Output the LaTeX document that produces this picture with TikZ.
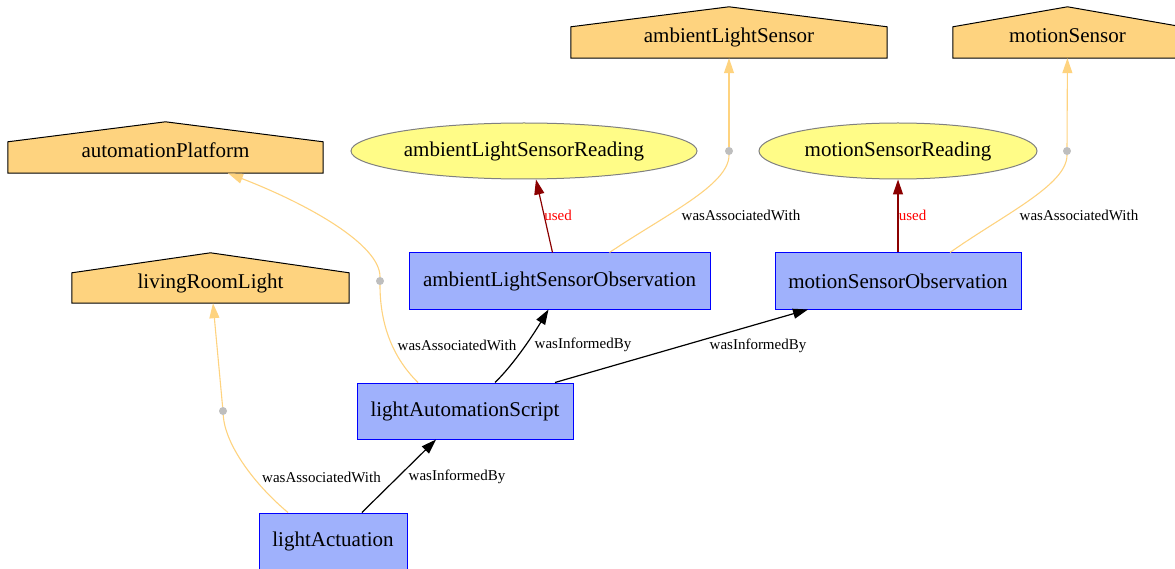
\documentclass[tikz,border=0pt]{standalone}
\usepackage{fontspec}
\setmainfont{Liberation Serif}
\usetikzlibrary{shapes.geometric,arrows.meta,backgrounds}
\definecolor{agentfill}{HTML}{FED37F}
\definecolor{actfill}{HTML}{9FB1FC}
\definecolor{entfill}{HTML}{FFFC87}
\definecolor{dotgray}{HTML}{BEBEBE}
\definecolor{usedred}{HTML}{8B0000}

\begin{document}
\begin{tikzpicture}[y=-1pt, x=1pt]
	\tikzstyle{every node}=[font=\fontsize{21}{24}\selectfont, inner sep=0]
	\tikzstyle{activity}=[rectangle, draw=blue, fill=actfill, line width=1pt, minimum height=56]
	\tikzstyle{entity}=[ellipse, draw=gray, fill=entfill, line width=1pt, minimum height=56]
	\tikzstyle{agent}=[rectangle, minimum height=31, text depth=14.5pt]
	\tikzstyle{bend dot}=[circle, fill=dotgray, minimum size=8]
	\tikzstyle{lbl}=[font=\fontsize{15}{18}\selectfont]
	\tikzstyle{informed}=[line width=1.2pt, -{Triangle[length=15pt, width=10pt]}]
	\tikzstyle{usedge}=[informed, usedred]
	\tikzstyle{associated}=[line width=1.1pt, agentfill]
	\tikzstyle{assoc arrow}=[associated, -{Triangle[length=15pt, width=10pt]}]

	\useasboundingbox (0,0) rectangle (1175,569);

	%agents
	\node[agent, minimum width=315] (ap) at (165.5,157.5) {automationPlatform};
	\node[agent, minimum width=277, minimum height=30] (lrl) at (210.5,288) {livingRoomLight};
	\node[agent, minimum width=316] (als) at (729,42.5) {ambientLightSensor};
	\node[agent, minimum width=229] (ms) at (1067.5,42.5) {motionSensor};
	\begin{pgfonlayer}{background}
		\foreach \n in {ap,lrl,als,ms}
			\draw[fill=agentfill, line width=1pt] (\n.south west) -- (\n.north west)
				-- ([yshift=20]\n.north) -- (\n.north east) -- (\n.south east) -- cycle;
	\end{pgfonlayer}

	%entities
	\node[entity, minimum width=346] (alsr) at (524,151) {ambientLightSensorReading};
	\node[entity, minimum width=278] (msr) at (898,151) {motionSensorReading};

	%activities
	\node[activity, minimum width=301] (alo) at (559.5,281) {ambientLightSensorObservation};
	\node[activity, minimum width=246] (mso) at (898,281) {motionSensorObservation};
	\node[activity, minimum width=216] (las) at (465,411) {lightAutomationScript};
	\node[activity, minimum width=148] (la) at (333,541) {lightActuation};

	%dots
	\node[bend dot] (d1) at (223,411) {};
	\node[bend dot] (d2) at (380,281) {};
	\node[bend dot] (d3) at (729,151) {};
	\node[bend dot] (d4) at (1067,151) {};

	%wasInformedBy
	\draw[informed] (la) -- (las);
	\draw[informed] ([xshift=30]las.north) .. controls (512,366) and (530,340) .. ([xshift=-11]alo.south);
	\draw[informed] ([xshift=90]las.north) -- ([xshift=-90]mso.south);

	%used
	\draw[usedge] ([xshift=-7]alo.north) -- ([xshift=12]alsr.south);
	\draw[usedge] (mso) -- (msr);

	%wasAssociatedWith
	\draw[associated] ([xshift=-45]la.north) .. controls (255,485) and (225,445) .. (d1);
	\draw[assoc arrow] (d1) -- ([xshift=2.5]lrl.south);
	\draw[associated] ([xshift=-47]las.north) .. controls (390,355) and (380,320) .. (d2);
	\draw[assoc arrow] (d2) .. controls (380,245) and (310,205) .. ([xshift=62.5]ap.south);
	\draw[associated] ([xshift=50]alo.north) .. controls (665,215) and (729,185) .. (d3);
	\draw[assoc arrow] (d3) -- (als);
	\draw[associated] ([xshift=52]mso.north) .. controls (1003,215) and (1067,185) .. (d4);
	\draw[assoc arrow] (d4) -- (ms);

	%labels
	\node[lbl] (l1) at (457,477) {wasInformedBy};
	\node[lbl] (l2) at (321.5,477) {wasAssociatedWith};
	\node[lbl] (l3) at (457,345) {wasAssociatedWith};
	\node[lbl] (l4) at (583,345) {wasInformedBy};
	\node[lbl] (l5) at (758,346) {wasInformedBy};
	\node[lbl, red] (l6) at (558,215) {used};
	\node[lbl, red] (l7) at (912.5,215) {used};
	\node[lbl] (l8) at (741,215) {wasAssociatedWith};
	\node[lbl] (l9) at (1079,215) {wasAssociatedWith};
\end{tikzpicture}
\end{document}
